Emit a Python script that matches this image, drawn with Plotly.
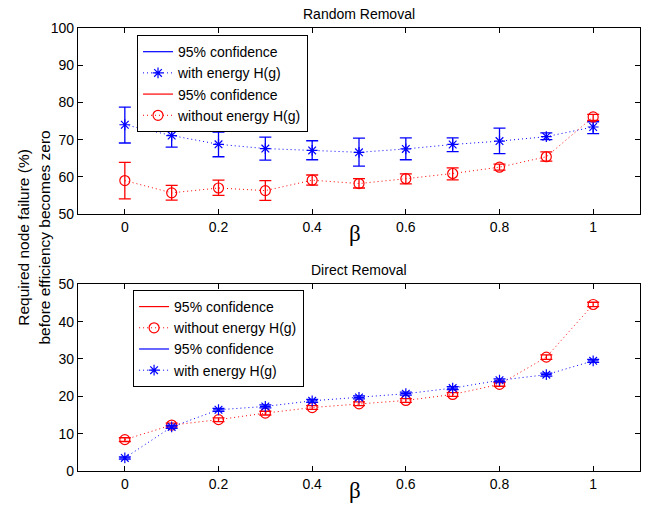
import plotly.graph_objects as go

beta = [0, 0.1, 0.2, 0.3, 0.4, 0.5, 0.6, 0.7, 0.8, 0.9, 1.0]

# Random removal
rand_with = [74.0, 71.1, 68.75, 67.6, 67.1, 66.6, 67.5, 68.7, 69.6, 70.8, 73.4]
rand_with_hi = [78.75, 74.1, 72.0, 70.7, 69.7, 70.4, 70.5, 70.5, 73.1, 71.8, 74.8]
rand_with_lo = [69.1, 68.0, 65.4, 64.5, 64.6, 62.9, 64.6, 66.8, 66.25, 70.0, 71.6]
rand_without = [59.0, 55.7, 57.0, 56.3, 59.1, 58.2, 59.5, 60.9, 62.6, 65.4, 76.1]
rand_without_hi = [63.9, 57.7, 59.1, 59.0, 60.5, 59.5, 60.8, 62.4, 63.4, 66.7, 76.8]
rand_without_lo = [54.1, 53.75, 55.0, 53.7, 57.8, 57.0, 58.1, 59.2, 61.8, 64.2, 75.2]

# Direct removal
dir_without = [8.4, 12.3, 13.75, 15.5, 17.0, 18.0, 18.9, 20.5, 23.2, 30.5, 44.6]
dir_without_err = [0.5, 0.5, 0.5, 0.5, 0.5, 0.5, 0.5, 0.5, 0.5, 0.6, 0.6]
dir_with = [3.5, 11.8, 16.4, 17.3, 18.8, 19.7, 20.7, 22.2, 24.3, 25.8, 29.5]
dir_with_err = [0.3, 0.4, 0.4, 0.4, 0.4, 0.4, 0.4, 0.4, 0.4, 0.4, 0.4]

BLUE = "#0000ff"
RED = "#ff0000"
FONT = "Liberation Sans, Arial, sans-serif"
SERIF = "Liberation Serif, Times New Roman, serif"

fig = go.Figure()


def conf_entry(color, legend, xaxis, yaxis):
    fig.add_trace(go.Scatter(x=[None], y=[None], mode="lines", name="95% confidence",
                             line=dict(color=color, width=1.2), legend=legend,
                             xaxis=xaxis, yaxis=yaxis))


def data_trace(y, hi, lo, color, symbol, name, legend, xaxis, yaxis, size):
    fig.add_trace(go.Scatter(
        x=beta, y=y, mode="lines+markers", name=name, legend=legend,
        xaxis=xaxis, yaxis=yaxis,
        line=dict(color=color, width=1, dash="1px,3px"),
        marker=dict(symbol=symbol, size=size, color=color, line=dict(color=color, width=1.2)),
        error_y=dict(type="data", symmetric=False,
                     array=[h - v for h, v in zip(hi, y)],
                     arrayminus=[v - l for v, l in zip(y, lo)],
                     color=color, thickness=1.3, width=6)))


# Top panel
conf_entry(BLUE, "legend", "x", "y")
data_trace(rand_with, rand_with_hi, rand_with_lo, BLUE, "asterisk-open", "with energy H(g)", "legend", "x", "y", 9)
conf_entry(RED, "legend", "x", "y")
data_trace(rand_without, rand_without_hi, rand_without_lo, RED, "circle-open", "without energy H(g)", "legend", "x", "y", 10)

# Bottom panel
conf_entry(RED, "legend2", "x2", "y2")
data_trace(dir_without, [v + e for v, e in zip(dir_without, dir_without_err)],
           [v - e for v, e in zip(dir_without, dir_without_err)], RED, "circle-open",
           "without energy H(g)", "legend2", "x2", "y2", 10)
conf_entry(BLUE, "legend2", "x2", "y2")
data_trace(dir_with, [v + e for v, e in zip(dir_with, dir_with_err)],
           [v - e for v, e in zip(dir_with, dir_with_err)], BLUE, "asterisk-open",
           "with energy H(g)", "legend2", "x2", "y2", 9)

axis_common = dict(showline=True, linecolor="black", linewidth=1.2, mirror="ticks",
                   ticks="inside", ticklen=5, tickcolor="black", showgrid=False,
                   zeroline=False, tickfont=dict(family=FONT, size=14, color="black"))

tickvals = [0, 0.2, 0.4, 0.6, 0.8, 1]
ticktext = ["0", "0.2", "0.4", "0.6", "0.8", "1"]

legend_common = dict(bgcolor="white", bordercolor="black", borderwidth=1,
                     font=dict(family=FONT, size=14, color="black"),
                     xanchor="left", yanchor="top", tracegroupgap=0)

TOP_DOM = [0.580, 1]
BOT_DOM = [0, 0.4214]

fig.update_layout(
    width=661, height=508,
    margin=dict(l=78, r=21, t=28, b=37, autoexpand=False),
    paper_bgcolor="white", plot_bgcolor="white",
    showlegend=True,
    xaxis=dict(range=[-0.1, 1.1], domain=[0, 1], anchor="y", tickvals=tickvals, ticktext=ticktext, **axis_common),
    yaxis=dict(range=[50, 100], domain=TOP_DOM, anchor="x", dtick=10, **axis_common),
    xaxis2=dict(range=[-0.1, 1.1], domain=[0, 1], anchor="y2", tickvals=tickvals, ticktext=ticktext, **axis_common),
    yaxis2=dict(range=[0, 50], domain=BOT_DOM, anchor="x2", dtick=10, **axis_common),
    legend=dict(x=0.105, y=0.984, **legend_common),
    legend2=dict(x=0.098, y=0.4086, **legend_common),
    annotations=[
        dict(text="Random Removal", xref="paper", yref="paper", x=0.5, y=TOP_DOM[1], yshift=14,
             showarrow=False, font=dict(family=FONT, size=14, color="black"), yanchor="middle"),
        dict(text="Direct Removal", xref="paper", yref="paper", x=0.5, y=BOT_DOM[1], yshift=14,
             showarrow=False, font=dict(family=FONT, size=14, color="black"), yanchor="middle"),
        dict(text="β", xref="paper", yref="paper", x=0.5, xshift=-4, y=TOP_DOM[0], yshift=-19,
             showarrow=False, font=dict(family=SERIF, size=23, color="black"), yanchor="middle"),
        dict(text="β", xref="paper", yref="paper", x=0.5, xshift=-4, y=BOT_DOM[0], yshift=-19,
             showarrow=False, font=dict(family=SERIF, size=23, color="black"), yanchor="middle"),
        dict(text="Required node failure (%)<br>before efficiency becomes zero", xref="paper", yref="paper",
             x=0, xshift=-44, y=0.527, textangle=-90, showarrow=False,
             font=dict(family=FONT, size=15.5, color="black"), xanchor="center", yanchor="middle"),
    ],
)

fig.write_html("out.html", config={"displayModeBar": False},
               post_script="document.body.style.margin='0px';")
